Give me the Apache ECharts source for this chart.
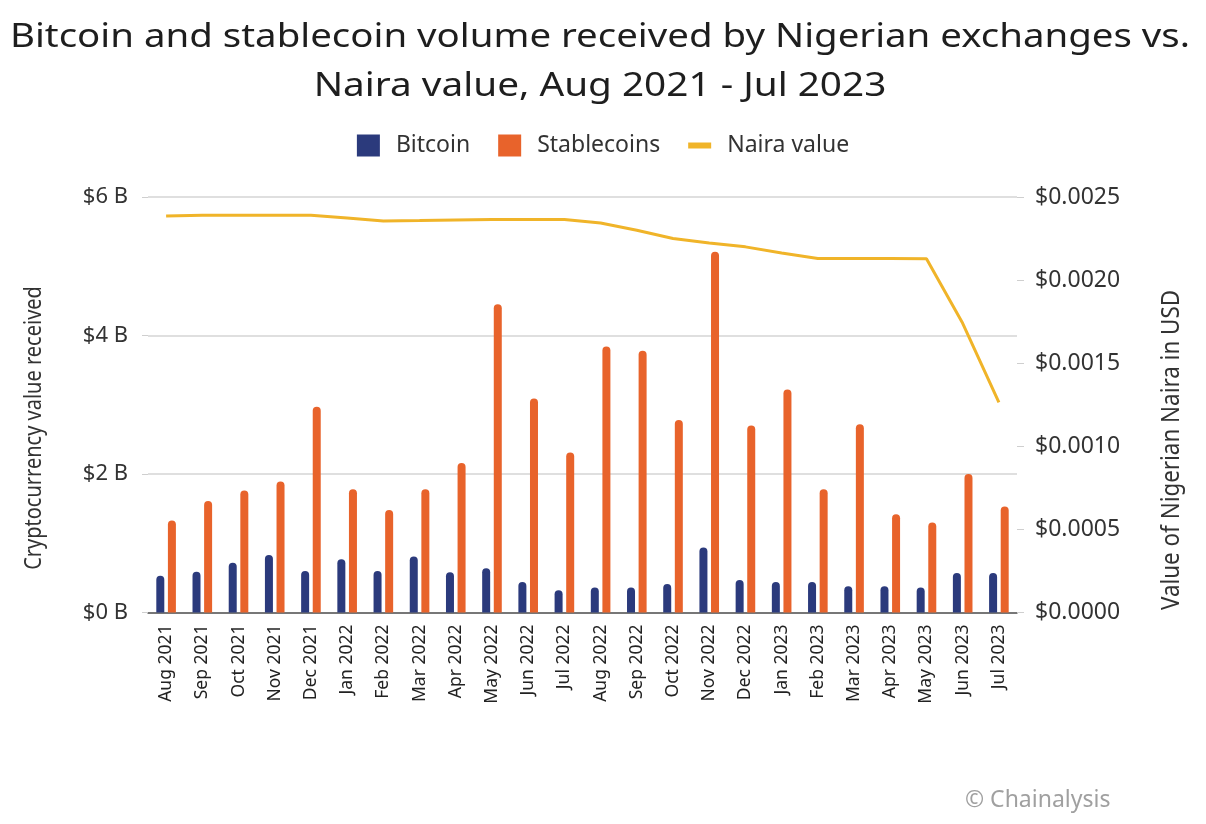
<!DOCTYPE html>
<html>
<head>
<meta charset="utf-8">
<script src="https://cdn.jsdelivr.net/npm/echarts@6/dist/echarts.min.js"></script>
<style>
html,body{margin:0;padding:0;background:#fff;}
#chart{width:1206px;height:824px;}
</style>
</head>
<body>
<div id="chart"></div>
<script>
const categories = ['Aug 2021','Sep 2021','Oct 2021','Nov 2021','Dec 2021','Jan 2022','Feb 2022','Mar 2022','Apr 2022','May 2022','Jun 2022','Jul 2022','Aug 2022','Sep 2022','Oct 2022','Nov 2022','Dec 2022','Jan 2023','Feb 2023','Mar 2023','Apr 2023','May 2023','Jun 2023','Jul 2023'];
const bitcoin = [0.53,0.59,0.72,0.83,0.60,0.77,0.60,0.81,0.58,0.64,0.44,0.32,0.36,0.36,0.41,0.94,0.47,0.44,0.44,0.38,0.38,0.36,0.57,0.57];
const stablecoins = [1.33,1.61,1.76,1.89,2.97,1.78,1.48,1.78,2.16,4.45,3.09,2.31,3.84,3.78,2.78,5.21,2.70,3.22,1.78,2.72,1.42,1.30,2.00,1.53];
const naira = [0.002385,0.00239,0.00239,0.00239,0.00239,0.002374,0.002356,0.002358,0.002362,0.002364,0.002364,0.002364,0.002344,0.0023,0.00225,0.002223,0.0022,0.002163,0.00213,0.00213,0.00213,0.002128,0.00174,0.001265];
const leftTicks = ['$0 B','$2 B','$4 B','$6 B'];
const rightTicks = ['$0.0000','$0.0005','$0.0010','$0.0015','$0.0020','$0.0025'];
const titleLines = ['Bitcoin and stablecoin volume received by Nigerian exchanges vs.','Naira value, Aug 2021 - Jul 2023'];

const FONT = 'Noto Sans';
const chart = echarts.init(document.getElementById('chart'), null, {renderer:'canvas'});
chart.setOption({
  backgroundColor:'#ffffff',
  textStyle:{fontFamily:FONT},
  legend:{
    top:129, left:'center',
    itemWidth:23, itemHeight:22, itemGap:28,
    textStyle:{fontFamily:FONT,fontSize:23,color:'#333',padding:[0,0,0,11]},
    data:[
      {name:'Bitcoin',icon:'rect'},
      {name:'Stablecoins',icon:'rect'},
      {name:'Naira value',icon:'path://M0,0H23V6H0Z'}
    ]
  },
  grid:{left:148,right:189,top:197,bottom:824-612.5},
  xAxis:{
    type:'category',
    data:categories,
    axisLine:{show:true,lineStyle:{color:'#555',width:1.5}},
    axisTick:{show:false},
    axisLabel:{rotate:90,fontSize:17.5,color:'#222',margin:12,fontFamily:FONT,interval:0}
  },
  yAxis:[
    {
      type:'value',min:0,max:6,interval:2,
      axisLine:{show:false},
      axisTick:{show:true,length:6,lineStyle:{color:'#cfcfcf'}},
      splitLine:{show:true,lineStyle:{color:'#d4d4d4',width:1.5}},
      axisLabel:{fontSize:22,color:'#333',margin:20,fontFamily:FONT,
        formatter:function(v){return leftTicks[Math.round(v/2)];}}
    },
    {
      type:'value',min:0,max:0.0025,interval:0.0005,position:'right',
      axisLine:{show:false},
      axisTick:{show:true,length:7,lineStyle:{color:'#cfcfcf'}},
      splitLine:{show:false},
      axisLabel:{fontSize:23,color:'#333',margin:18,fontFamily:FONT,
        formatter:function(v){return rightTicks[Math.round(v/0.0005)];}}
    }
  ],
  series:[
    {name:'Bitcoin',type:'bar',data:bitcoin,barWidth:8,barGap:'45%',
      itemStyle:{color:'#2b3a7c',borderRadius:[4,4,0,0]}},
    {name:'Stablecoins',type:'bar',data:stablecoins,barWidth:8,barGap:'45%',
      itemStyle:{color:'#e8632b',borderRadius:[4,4,0,0]}},
    {name:'Naira value',type:'line',yAxisIndex:1,data:naira,symbol:'none',
      lineStyle:{color:'#f0b429',width:3},itemStyle:{color:'#f0b429'},z:5}
  ],
  graphic:[
    {type:'text',x:600,y:38,scaleX:1.2,style:{text:titleLines[0],fontFamily:FONT,fontSize:32,fill:'#1e1e1e',textAlign:'center',textVerticalAlign:'middle'}},
    {type:'text',x:600,y:87,scaleX:1.21,style:{text:titleLines[1],fontFamily:FONT,fontSize:32,fill:'#1e1e1e',textAlign:'center',textVerticalAlign:'middle'}},
    {type:'text',x:34,y:428,rotation:Math.PI/2,scaleY:1.15,style:{text:'Cryptocurrency value received',fontFamily:FONT,fontSize:20,fill:'#333',textAlign:'center',textVerticalAlign:'middle'}},
    {type:'text',x:1172,y:450,rotation:Math.PI/2,scaleY:1.1,style:{text:'Value of Nigerian Naira in USD',fontFamily:FONT,fontSize:22.4,fill:'#333',textAlign:'center',textVerticalAlign:'middle'}},
    {type:'text',x:965,y:800,style:{text:'© Chainalysis',fontFamily:FONT,fontSize:23,fill:'#a0a0a0',textVerticalAlign:'middle'}}
  ]
});
</script>
</body>
</html>
